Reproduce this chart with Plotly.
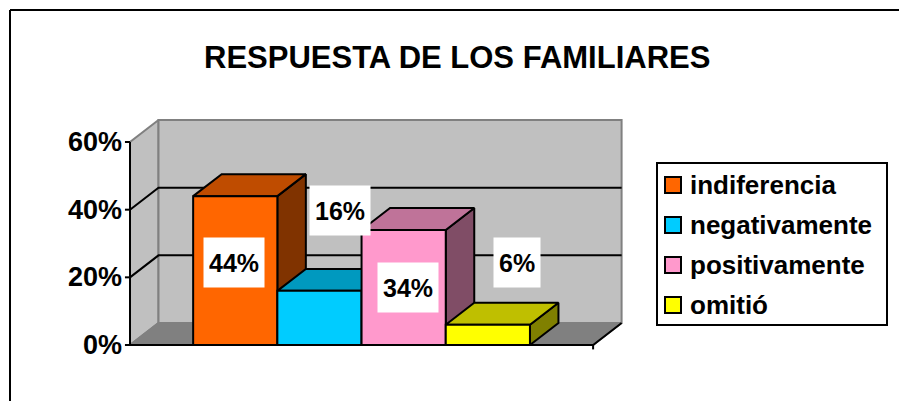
import plotly.graph_objects as go

# ---- data ----
categories = ["indiferencia", "negativamente", "positivamente", "omitió"]
values = [0.44, 0.16, 0.34, 0.06]
value_labels = ["44%", "16%", "34%", "6%"]
tick_values = [0.0, 0.2, 0.4, 0.6]
tick_labels = ["0%", "20%", "40%", "60%"]
title_text = "RESPUESTA DE LOS FAMILIARES"

# ---- styling ----
front_colors = ["#FF6600", "#00CCFF", "#FF99CC", "#FFFF00"]
top_colors = ["#BF4C00", "#0099BF", "#BF7399", "#BFBF00"]
side_colors = ["#803300", "#00667F", "#804D66", "#808000"]
WALL = "#C0C0C0"
FLOOR = "#808080"
EDGE = "#808080"
FONT = "Liberation Sans, Arial, sans-serif"

# label placement: shift from the bar centre (bar widths) and height (value units)
label_dx = [-0.02, 0.24, 0.05, 0.35]
label_y = [0.244, 0.397, 0.17, 0.244]

GAP = 0.75                 # space between axis ends and outer bars, in bar widths
DX, DY = 0.3385, 0.065     # depth offset of the 3-D box
Y_MAX = tick_values[-1]
X_END = 2 * GAP + len(values)
TICK = 0.06

W, H = 899, 401

fig = go.Figure()


def poly(xs, ys, fill, line_color="black", width=2):
    fig.add_trace(go.Scatter(
        x=xs + [xs[0]], y=ys + [ys[0]], mode="lines", fill="toself",
        fillcolor=fill, line=dict(color=line_color, width=width),
        hoverinfo="skip", showlegend=False))


def seg(xs, ys, color="black", width=2):
    fig.add_trace(go.Scatter(
        x=xs, y=ys, mode="lines", line=dict(color=color, width=width),
        hoverinfo="skip", showlegend=False))


# walls and floor
poly([0, DX, DX, 0], [0, DY, Y_MAX + DY, Y_MAX], WALL, EDGE)
poly([DX, X_END + DX, X_END + DX, DX], [DY, DY, Y_MAX + DY, Y_MAX + DY], WALL, EDGE)
poly([0, X_END, X_END + DX, DX], [0, 0, DY, DY], FLOOR, EDGE)

# gridlines across side wall and back wall
for v in tick_values[1:-1]:
    seg([0, DX, X_END + DX], [v, v + DY, v + DY])

# axes
seg([0, 0], [0, Y_MAX])
for v in tick_values:
    seg([-TICK, 0], [v, v])
seg([0, X_END, X_END + DX], [0, 0, DY])
seg([X_END, X_END], [0, -0.013])

# 3-D columns
for i, v in enumerate(values):
    x0 = GAP + i
    x1 = x0 + 1
    poly([x1, x1 + DX, x1 + DX, x1], [0, DY, v + DY, v], side_colors[i])
    poly([x0, x1, x1 + DX, x0 + DX], [v, v, v + DY, v + DY], top_colors[i])
    poly([x0, x1, x1, x0], [0, 0, v, v], front_colors[i])

annotations = []

# value labels
for i, lab in enumerate(value_labels):
    annotations.append(dict(
        x=GAP + i + 0.5 + label_dx[i], y=label_y[i], xref="x", yref="y",
        text=f"<b>{lab}</b>", showarrow=False, bgcolor="white",
        borderpad=5, height=39,
        font=dict(family=FONT, size=25, color="black")))

# y tick labels
for v, lab in zip(tick_values, tick_labels):
    annotations.append(dict(
        x=0, y=v, xref="x", yref="y", xanchor="right", yanchor="middle",
        xshift=-6, text=f"<b>{lab}</b>", showarrow=False,
        font=dict(family=FONT, size=27, color="black")))

# title
annotations.append(dict(
    x=457.5 / W, y=1 - 58 / H, xref="paper", yref="paper",
    xanchor="center", yanchor="middle", text=f"<b>{title_text}</b>",
    showarrow=False, font=dict(family=FONT, size=31, color="black")))

shapes = []

# outer frame
shapes.append(dict(type="line", xref="paper", yref="paper",
                   x0=10 / W, x1=10 / W, y0=-0.1, y1=1 - 10 / H,
                   line=dict(color="black", width=2)))
shapes.append(dict(type="line", xref="paper", yref="paper",
                   x0=10 / W, x1=1.1, y0=1 - 10 / H, y1=1 - 10 / H,
                   line=dict(color="black", width=2)))

# legend
shapes.append(dict(type="rect", xref="paper", yref="paper",
                   x0=657 / W, x1=887 / W, y0=1 - 325 / H, y1=1 - 163 / H,
                   fillcolor="white", line=dict(color="black", width=2)))
for k, name in enumerate(categories):
    cy = 185 + 40 * k
    shapes.append(dict(type="rect", xref="paper", yref="paper",
                       x0=665 / W, x1=681 / W,
                       y0=1 - (cy + 8) / H, y1=1 - (cy - 8) / H,
                       fillcolor=front_colors[k], line=dict(color="black", width=2)))
    annotations.append(dict(
        x=688 / W, y=1 - cy / H, xref="paper", yref="paper",
        xanchor="left", yanchor="middle", text=f"<b>{name}</b>",
        showarrow=False, font=dict(family=FONT, size=26, color="black")))

fig.update_layout(
    width=W, height=H, autosize=False,
    margin=dict(l=0, r=0, t=0, b=0),
    paper_bgcolor="white", plot_bgcolor="white",
    xaxis=dict(range=[-1.5439, 9.1330], visible=False, fixedrange=True),
    yaxis=dict(range=[-0.16553, 1.01981], visible=False, fixedrange=True),
    annotations=annotations, shapes=shapes, showlegend=False,
)

fig.write_html("out.html")
